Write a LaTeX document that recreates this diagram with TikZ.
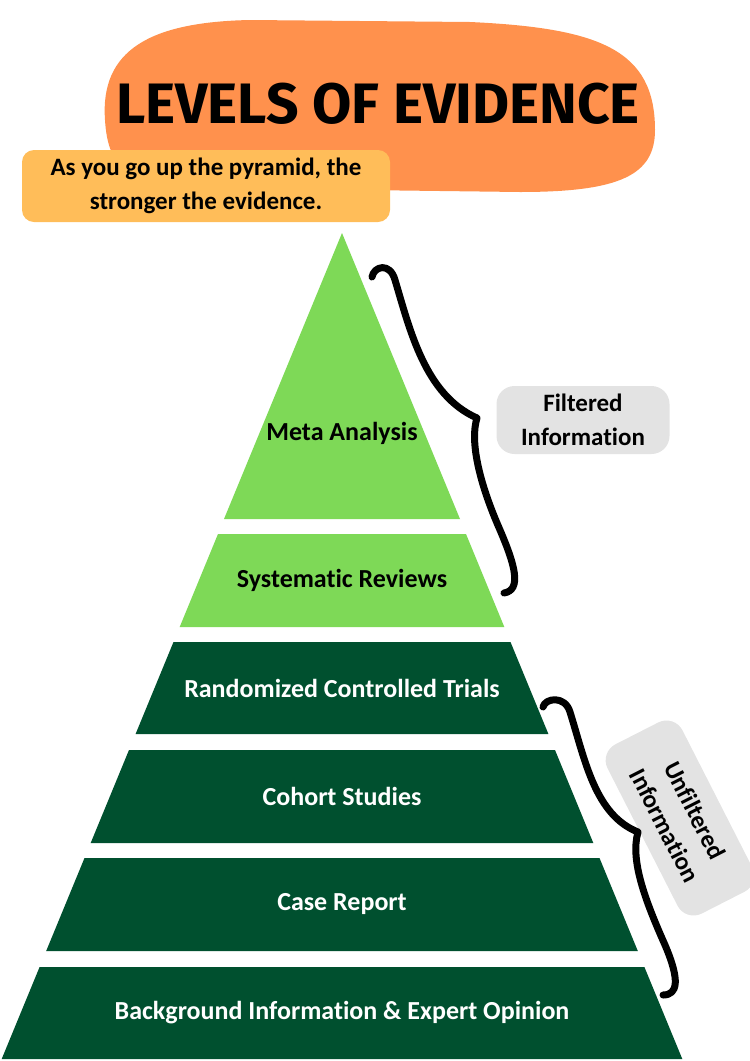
\documentclass[tikz,border=0pt]{standalone}
\usepackage{fontspec}
\setmainfont{Carlito}[Ligatures=NoCommon]
\newfontfamily\titlefont{Fira Sans}
\usetikzlibrary{calc}
\definecolor{blob}{HTML}{FF914D}
\definecolor{note}{HTML}{FFBD59}
\definecolor{lightGreen}{HTML}{7ED957}
\definecolor{darkGreen}{HTML}{00502F}
\definecolor{tag}{HTML}{E3E3E3}
\tikzset{
  base/.style={font=\bfseries\fontsize{25}{34}\selectfont, text=black, align=center},
  light/.style={fill=lightGreen},
  dark/.style={fill=darkGreen},
  light text/.style={base, font=\bfseries\fontsize{26}{34}\selectfont},
  dark text/.style={light text, text=white},
  tagbox/.style={base, fill=tag, rounded corners=18pt, inner sep=0pt},
  brace/.style={line width=7pt, line cap=round, line join=round},
}
% one slice of the pyramid: name, top, bottom, style, label
\newcommand\band[5]{%
  \pgfmathsetmacro\ta{0.412*(#2-233)}%
  \pgfmathsetmacro\tb{0.412*(#3-233)}%
  \fill[#4] (342-\ta,#2) -- (342+\ta,#2) -- (342+\tb,#3) -- (342-\tb,#3) -- cycle;
  \node[#4 text] (#1) at (342,{(#2+#3)/2}) {#5};
}

\begin{document}
\begin{tikzpicture}[x=1pt,y=-1pt]
  \useasboundingbox (0,0) rectangle (750,1061);

  \fill[blob] (105,120) .. controls (100,50) and (150,22) .. (250,20) -- (470,22)
    .. controls (600,28) and (655,50) .. (655,130)
    .. controls (655,175) and (620,192) .. (520,192) -- (200,188)
    .. controls (130,186) and (108,170) .. (105,120) -- cycle;
  \node[font=\titlefont\bfseries\fontsize{57}{64}\selectfont] (title) at (378,104) {LEVELS OF EVIDENCE};

  \node[base, fill=note, rounded corners=12pt, minimum width=368pt, minimum height=72pt, inner sep=0pt] (hint) at (206,186)
    {As you go up the pyramid, the\\stronger the evidence.};

  \fill[lightGreen] (342,233) -- (460,519) -- (224,519) -- cycle;
  \node[light text] (meta) at (342,433) {Meta Analysis};
  \band{sys}{534}{627}{light}{Systematic Reviews}
  \band{rct}{642}{734}{dark}{Randomized Controlled Trials}
  \band{cohort}{750}{843}{dark}{Cohort Studies}
  \band{case}{858}{951}{dark}{Case Report}
  \band{bg}{967}{1059}{dark}{Background Information \& Expert Opinion}

  \node[tagbox, minimum width=173pt, minimum height=68pt] (filtered) at (583,420) {Filtered\\Information};
  \node[tagbox, minimum width=190pt, minimum height=84pt, rotate=-63] (unfiltered) at (680,818) {Unfiltered\\Information};

  \draw[brace] (372,277) .. controls (374,266) and (390,262) .. (395,280)
    .. controls (410,330) and (425,395) .. (477,418)
    .. controls (470,440) and (478,480) .. (500,530)
    .. controls (515,565) and (522,590) .. (504,593);
  \draw[brace] (543,707) .. controls (545,698) and (565,695) .. (570,712)
    .. controls (585,760) and (595,815) .. (638,832)
    .. controls (630,860) and (645,900) .. (665,945)
    .. controls (680,980) and (678,995) .. (663,995);
\end{tikzpicture}
\end{document}
